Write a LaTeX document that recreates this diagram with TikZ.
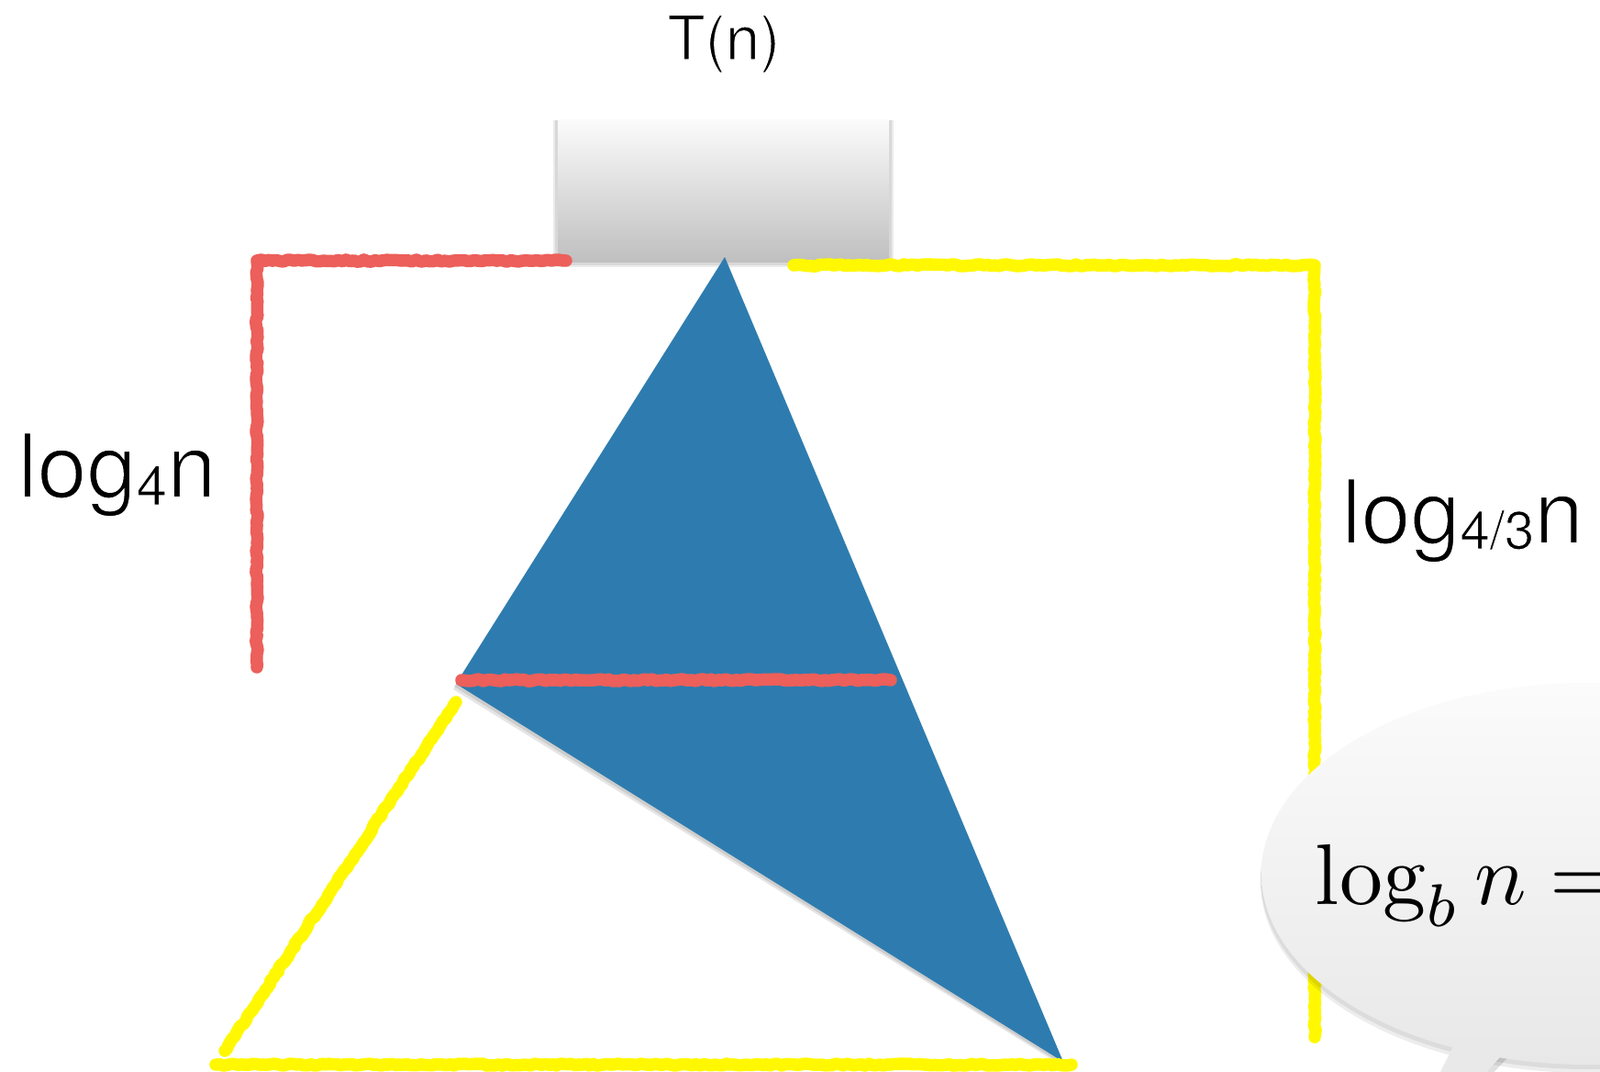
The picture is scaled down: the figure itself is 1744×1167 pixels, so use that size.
\documentclass[tikz,border=0pt]{standalone}
\usepackage{fontspec}
\newfontfamily\labelsans{TeX Gyre Heros}
\usetikzlibrary{decorations.pathmorphing}
\definecolor{chalkred}{RGB}{236,95,90}
\definecolor{chalkyel}{RGB}{255,248,0}
\definecolor{triblue}{RGB}{46,124,175}
% thin the glyphs: fill black, stroke white over the outline
\newcommand{\thinon}[1]{\special{pdf:literal direct 1 1 1 RG #1 w 2 Tr}}
\newcommand{\thinoff}{\special{pdf:literal direct 0 0 0 RG 0.4 w 0 Tr}}
\begin{document}
\begin{tikzpicture}[x=1pt,y=-1pt,
  chalk/.style={line width=13.5pt, line cap=round, line join=round, decorate,
    decoration={random steps, segment length=4pt, amplitude=1.1pt}},
  lbl/.style={inner sep=0pt, anchor=base west}]
\useasboundingbox (0,0) rectangle (1744,1167);
\fill[white] (0,0) rectangle (1744,1167);

% grey box with soft shadow
\fill[black, opacity=0.08] (603,131) rectangle (974,291);
\fill[black, opacity=0.08] (605,131) rectangle (972,289);
\node[draw=none, minimum width=361pt, minimum height=155pt, inner sep=0pt,
  top color=gray!3, bottom color=gray!50, anchor=north west] (box) at (608,130) {};

% blue triangle
\coordinate (apex) at (790,280);
\coordinate (lv) at (497,745);
\coordinate (rv) at (1159,1157);
\fill[black, opacity=0.10] ([shift={(-2,5)}]apex) -- ([shift={(-3,6)}]lv) -- ([shift={(0,5)}]rv) -- cycle;
\fill[black, opacity=0.10] ([shift={(-1,3)}]apex) -- ([shift={(-2,3)}]lv) -- ([shift={(0,3)}]rv) -- cycle;
\fill[triblue] (apex) -- (lv) -- (rv) -- cycle;

% red chalk
\coordinate (r1) at (617,284);
\coordinate (r2) at (280,284);
\coordinate (r3) at (280,727);
\draw[chalk, chalkred] (r1) -- (r2) -- (r3);
\coordinate (m1) at (503,741);
\coordinate (m2) at (971,741);
\draw[chalk, chalkred] (m1) -- (m2);

% yellow chalk
\coordinate (y1) at (865,289);
\coordinate (y2) at (1433,289);
\coordinate (y3) at (1433,1130);
\draw[chalk, chalkyel] (y1) -- (y2) -- (y3);
\coordinate (t1) at (497,765);
\coordinate (t2) at (245,1145);
\draw[chalk, chalkyel] (t1) -- (t2);
\coordinate (b1) at (235,1160);
\coordinate (b2) at (1168,1160);
\draw[chalk, chalkyel] (b1) -- (b2);

% labels
\node[inner sep=0pt, anchor=base] (tn) at (789,65) {\thinon{1.4}\labelsans\fontsize{67}{70}\selectfont T(n)\thinoff};
\node[lbl] (l4) at (19,542) {\thinon{2}\labelsans\fontsize{97}{100}\selectfont log\raisebox{-8pt}{\thinon{1}\fontsize{60}{62}\selectfont 4\thinon{2}}n\thinoff};
\node[lbl] (l43) at (1462,592) {\thinon{2}\labelsans\fontsize{97}{100}\selectfont log\raisebox{-6pt}{\thinon{1}\fontsize{58}{60}\selectfont 4/3\thinon{2}}n\thinoff};

% speech bubble
\fill[black, opacity=0.07] (1731,961) ellipse [x radius=357, y radius=208];
\fill[black, opacity=0.07] (1731,957) ellipse [x radius=357, y radius=208];
\fill[black, opacity=0.12] (1599,1118) -- (1552,1200) -- (1598,1200) -- (1676,1118) -- cycle;
\fill[gray!17] (1599,1110) -- (1554,1200) -- (1592,1200) -- (1672,1110) -- cycle;
\path[top color=gray!3, bottom color=gray!18] (1731,952) ellipse [x radius=356, y radius=208];
\node[lbl, scale=9.4] (f) at (1432,985) {$\log_b n =$};
\end{tikzpicture}
\end{document}
